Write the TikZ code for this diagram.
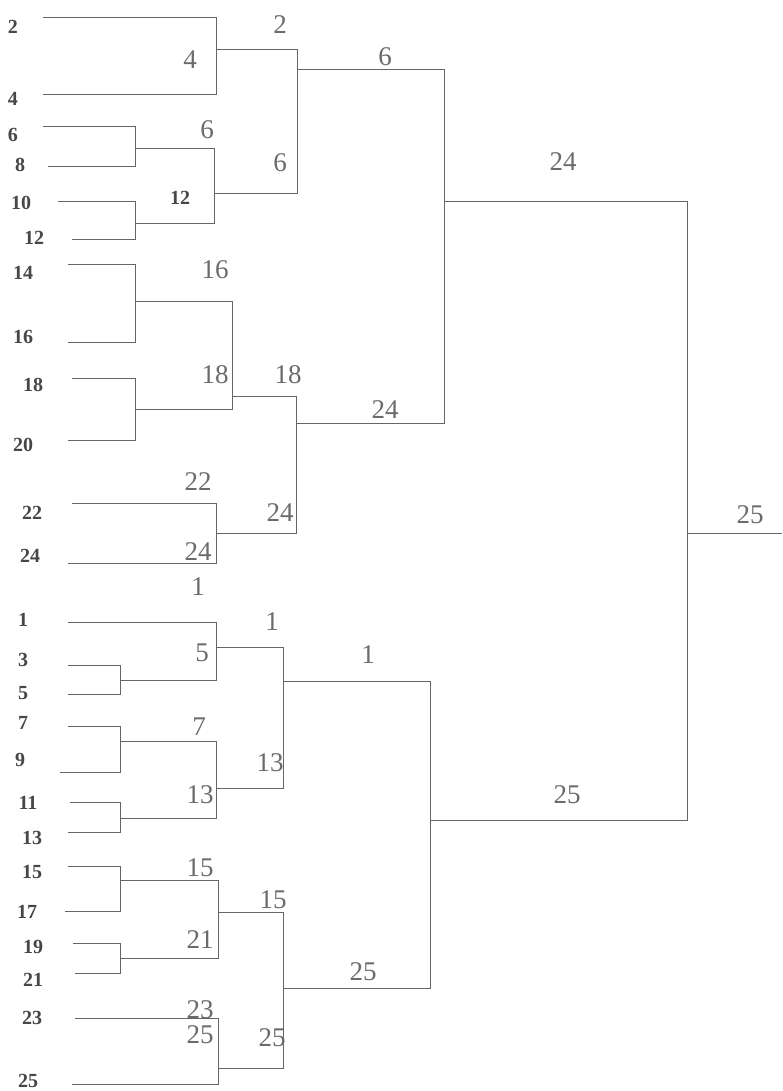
\documentclass[tikz,border=0pt]{standalone}
\usepackage{fontspec}
\setmainfont{Liberation Serif}
\begin{document}
\begin{tikzpicture}[x=1pt,y=-1pt,
  link/.style={draw=black!60,line width=1pt},
  leaf/.style={font=\fontsize{20}{20}\selectfont\bfseries,text=black!72,inner sep=0pt},
  val/.style={font=\fontsize{27}{27}\selectfont,text=black!58,inner sep=0pt}]
\useasboundingbox[fill=white] (0,0) rectangle (782,1091);
% leaf line starts
\coordinate (L2) at (43,18);   \coordinate (L4) at (43,95);
\coordinate (L6) at (43,127);  \coordinate (L8) at (48,167);
\coordinate (L10) at (58,202); \coordinate (L12) at (72,240);
\coordinate (L14) at (68,264); \coordinate (L16) at (68,342);
\coordinate (L18) at (72,378); \coordinate (L20) at (68,440);
\coordinate (L22) at (72,503); \coordinate (L24) at (68,563);
\coordinate (L1) at (68,622);  \coordinate (L3) at (68,665);
\coordinate (L5) at (68,694);  \coordinate (L7) at (68,726);
\coordinate (L9) at (60,772);  \coordinate (L11) at (70,802);
\coordinate (L13) at (68,832); \coordinate (L15) at (68,866);
\coordinate (L17) at (65,911); \coordinate (L19) at (73,943);
\coordinate (L21) at (75,973); \coordinate (L23) at (75,1018);
\coordinate (L25) at (72,1084);
% cluster outputs
\coordinate (cA) at (216,50);
\coordinate (cB) at (135,149);
\coordinate (cC) at (135,224);
\coordinate (cD) at (214,194);
\coordinate (cE) at (297,70);
\coordinate (cF) at (135,301);
\coordinate (cG) at (135,409);
\coordinate (cH) at (232,396);
\coordinate (cI) at (216,533);
\coordinate (cJ) at (296,423);
\coordinate (cK) at (444,202);
\coordinate (cL) at (120,680);
\coordinate (cM) at (216,647);
\coordinate (cN) at (120,741);
\coordinate (cO) at (120,818);
\coordinate (cP) at (216,788);
\coordinate (cQ) at (283,681);
\coordinate (cR) at (120,880);
\coordinate (cS) at (120,958);
\coordinate (cT) at (218,912);
\coordinate (cU) at (218,1068);
\coordinate (cV) at (283,988);
\coordinate (cW) at (430,820);
\coordinate (root) at (687,533);
\coordinate (out) at (782,533);
% brackets
\foreach \a/\b/\p in {L2/L4/cA, L6/L8/cB, L10/L12/cC, cB/cC/cD, cA/cD/cE,
  L14/L16/cF, L18/L20/cG, cF/cG/cH, L22/L24/cI, cH/cI/cJ, cE/cJ/cK,
  L3/L5/cL, L1/cL/cM, L7/L9/cN, L11/L13/cO, cN/cO/cP, cM/cP/cQ,
  L15/L17/cR, L19/L21/cS, cR/cS/cT, L23/L25/cU, cT/cU/cV, cQ/cV/cW,
  cK/cW/root}
  \draw[link] (\a) -- (\a -| \p) -- (\b -| \p) -- (\b);
\draw[link] (root) -- (out);
% leaf labels
\foreach \n/\x/\y in {2/13/27, 4/13/99, 6/13/135, 8/20/165, 10/21/203, 12/34/238,
  14/23/273, 16/23/337, 18/33/385, 20/23/445, 22/32/513, 24/30/556,
  1/23/620, 3/23/660, 5/23/693, 7/23/723, 9/20/760, 11/28/803, 13/32/838,
  15/32/872, 17/27/912, 19/33/947, 21/33/980, 23/32/1018, 25/28/1081}
  \node[leaf] (t\n) at (\x,\y) {\n};
\node[leaf] (w12) at (180,198) {12};
% merge values
\foreach \i/\v/\x/\y in {a/2/280/25, b/4/190/60, c/6/207/130, d/6/280/163,
  e/6/385/57, f/24/563/162, g/24/385/410, h/16/215/270, i/18/215/375,
  j/18/288/375, k/22/198/482, l/24/280/513, m/24/198/552, n/1/198/587,
  o/1/272/622, p/5/202/653, q/7/199/727, r/13/270/763, s/13/200/795,
  t/1/368/655, u/25/567/795, v/25/750/515, w/15/200/868, x/21/200/940,
  y/15/273/900, z/23/200/1010, aa/25/200/1035, ab/25/272/1038, ac/25/363/972}
  \node[val] (v\i) at (\x,\y) {\v};
\end{tikzpicture}
\end{document}
